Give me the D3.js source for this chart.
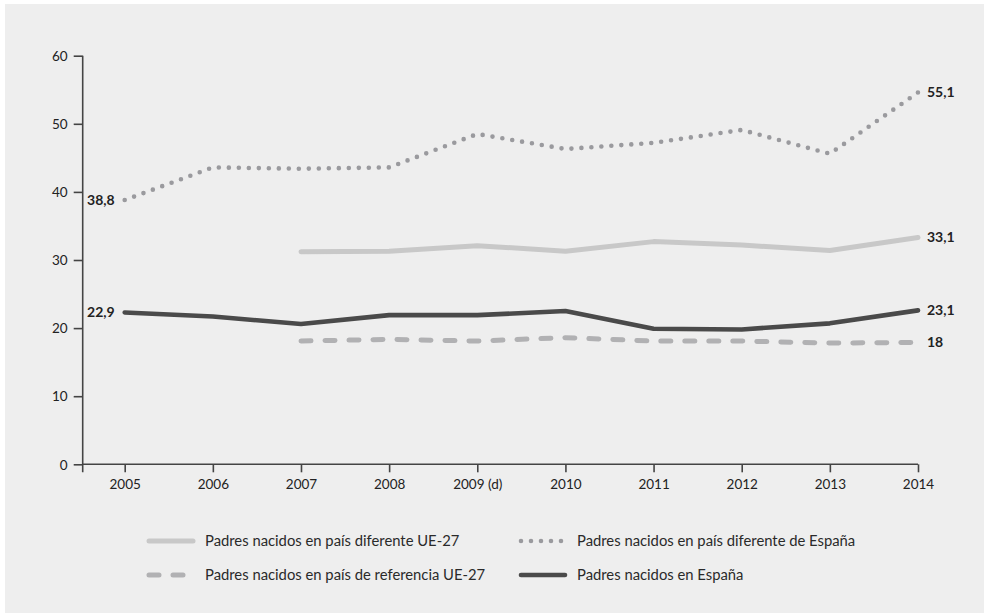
<!DOCTYPE html>
<html><head><meta charset="utf-8">
<script src="https://cdn.jsdelivr.net/npm/d3@7"></script>
<style>
html,body{margin:0;padding:0;background:#fff;}
svg{display:block;}
text{font-family:Lato,"Open Sans",sans-serif;}
</style></head>
<body>
<svg id="c" width="984" height="616"></svg>
<script>
const years = ["2005","2006","2007","2008","2009 (d)","2010","2011","2012","2013","2014"];
const yTicks = [0,10,20,30,40,50,60];
const seriesNames = [
  "Padres nacidos en país diferente UE-27",
  "Padres nacidos en país diferente de España",
  "Padres nacidos en país de referencia UE-27",
  "Padres nacidos en España"
];
// values per year (null = no data)
const difUE27   = [null,null,31.2,31.3,32.1,31.3,32.7,32.2,31.4,33.3];
const difEspana = [38.8,43.6,43.4,43.6,48.5,46.3,47.2,49.1,45.6,54.6];
const refUE27   = [null,null,18.1,18.35,18.1,18.6,18.1,18.1,17.8,17.9];
const espana    = [22.3,21.7,20.6,21.9,21.9,22.5,19.9,19.8,20.7,22.6];
const startLabels = ["", "38,8", "", "22,9"];
const endLabels   = ["33,1", "55,1", "18", "23,1"];

const svg = d3.select("#c");
svg.append("rect").attr("x",5).attr("y",4).attr("width",979).attr("height",609).attr("fill","#eeeeee");

const y = d3.scaleLinear().domain([0,60]).range([464.3,55.7]);
const x = d3.scalePoint().domain(years).range([124.7,918]);
const axisLeftX = 82.7;

const axisColor = "#444";
const gy = svg.append("g").attr("transform",`translate(${axisLeftX},0)`)
  .call(d3.axisLeft(y).tickValues(yTicks).tickSize(9).tickSizeOuter(0).tickPadding(6));
gy.select(".domain").attr("d",`M0,${y(60)}V${y(0)+8}`);
const gx = svg.append("g").attr("transform",`translate(0,${y(0)})`)
  .call(d3.axisBottom(x).tickSize(8).tickSizeOuter(0).tickPadding(7));
gx.select(".domain").attr("d",`M${axisLeftX},0H${x("2014")}`);
[gx,gy].forEach(g=>{
  g.selectAll(".domain").attr("stroke",axisColor).attr("stroke-width",1.6);
  g.selectAll(".tick line").attr("stroke",axisColor).attr("stroke-width",1.6);
  g.selectAll(".tick text").attr("fill","#222").attr("font-size",13.5).attr("font-family","Lato,'Open Sans',sans-serif");
});
gy.selectAll(".tick text").attr("dy","0.35em");

const styles = [
  {data:difUE27,   color:"#c8c8c8", width:5,   dash:null,   cap:"round"},
  {data:difEspana, color:"#9a9a9e", width:4.6, dash:"0 10", cap:"round"},
  {data:refUE27,   color:"#b1b1b3", width:5,   dash:"10 14", cap:"round"},
  {data:espana,    color:"#4a4a4a", width:4.6, dash:null,   cap:"round"}
];
const line = d3.line()
  .defined(d=>d.v!=null)
  .x(d=>x(d.k)).y(d=>y(d.v));

styles.forEach((s,i)=>{
  const pts = years.map((k,j)=>({k,v:s.data[j]}));
  svg.append("path").datum(pts)
    .attr("d",line).attr("fill","none")
    .attr("stroke",s.color).attr("stroke-width",s.width)
    .attr("stroke-linecap",s.cap).attr("stroke-linejoin","round")
    .attr("stroke-dasharray",s.dash);
  const defined = pts.filter(d=>d.v!=null);
  const last = defined[defined.length-1];
  svg.append("text").attr("x",x(last.k)+9).attr("y",y(last.v)).attr("dy","0.35em")
    .attr("font-weight","bold").attr("font-size",14).attr("fill","#222").text(endLabels[i]);
  if(startLabels[i]){
    const first = defined[0];
    svg.append("text").attr("x",x(first.k)-10).attr("y",y(first.v)).attr("dy","0.35em")
      .attr("text-anchor","end").attr("font-weight","bold").attr("font-size",14).attr("fill","#222").text(startLabels[i]);
  }
});

// legend
const legendPos = [[147,541],[519,541],[147,575],[519,575]];
styles.forEach((s,i)=>{
  const [lx,ly] = legendPos[i];
  const g = svg.append("g");
  g.append("line").attr("x1",lx+2).attr("x2",lx+46).attr("y1",ly).attr("y2",ly)
    .attr("stroke",s.color).attr("stroke-width",s.width)
    .attr("stroke-linecap","round").attr("stroke-dasharray",s.dash);
  g.append("text").attr("x",lx+58).attr("y",ly).attr("dy","0.35em")
    .attr("font-size",14.8).attr("fill","#2a2a2a").text(seriesNames[i]);
});
</script>
</body></html>
